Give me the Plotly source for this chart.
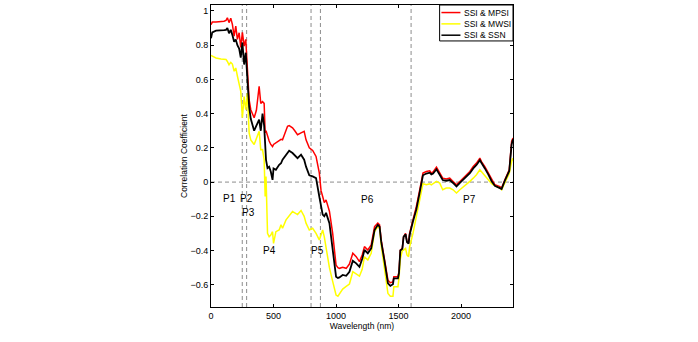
import plotly.graph_objects as go

OUTPUT_PATH = 'out.html'

# Wavelength grid (nm)
wavelength = [0, 10, 40, 80, 104, 120, 131, 144, 158, 171, 185, 198, 211, 225, 238, 251, 265, 278, 291,
              305, 318, 345, 363, 385, 398, 412, 425, 433, 440, 452, 465, 478, 492, 500, 519, 545, 560,
              572, 600, 612, 625, 652, 670, 692, 720, 745, 760, 786, 813, 840, 866, 880, 893, 906, 920,
              947, 973, 1000, 1015, 1027, 1053, 1081, 1107, 1134, 1161, 1187, 1209, 1227, 1254, 1281,
              1308, 1334, 1348, 1361, 1388, 1415, 1434, 1455, 1462, 1495, 1503, 1514, 1530, 1540, 1556,
              1567, 1580, 1588, 1615, 1642, 1669, 1695, 1722, 1749, 1762, 1776, 1803, 1829, 1853, 1881,
              1909, 1936, 1963, 1990, 2016, 2043, 2070, 2097, 2123, 2150, 2163, 2190, 2217, 2244, 2270,
              2310, 2324, 2350, 2385, 2404, 2415]

# SSI & MPSI
r_mpsi = [0.92, 0.935, 0.935, 0.937, 0.94, 0.945, 0.96, 0.932, 0.958, 0.922, 0.853, 0.912, 0.834, 0.873,
          0.787, 0.875, 0.795, 0.834, 0.677, 0.48, 0.423, 0.376, 0.42, 0.56, 0.46, 0.47, 0.46, 0.288, 0.30,
          0.266, 0.24, 0.22, 0.207, 0.22, 0.23, 0.24, 0.25, 0.247, 0.30, 0.326, 0.33, 0.317, 0.30, 0.277,
          0.288, 0.297, 0.247, 0.20, 0.185, 0.15, 0.054, -0.05, -0.084, -0.12, -0.104, -0.17, -0.30,
          -0.485, -0.50, -0.504, -0.498, -0.504, -0.479, -0.416, -0.436, -0.465, -0.426, -0.377, -0.397,
          -0.367, -0.26, -0.24, -0.25, -0.338, -0.455, -0.573, -0.588, -0.583, -0.553, -0.553, -0.524,
          -0.397, -0.387, -0.319, -0.30, -0.348, -0.358, -0.30, -0.221, -0.143, -0.045, 0.053, 0.062,
          0.066, 0.053, 0.06, 0.088, 0.053, 0.023, 0.018, 0.023, 0.004, -0.016, 0.004, 0.023, 0.043,
          0.062, 0.091, 0.111, 0.14, 0.12, 0.091, 0.053, 0.013, -0.016, -0.026, -0.035, 0.013, 0.072,
          0.238, 0.258]

# SSI & MWSI
r_mwsi = [0.74, 0.735, 0.725, 0.72, 0.718, 0.717, 0.705, 0.686, 0.70, 0.69, 0.648, 0.667, 0.62, 0.58,
          0.53, 0.376, 0.50, 0.423, 0.52, 0.288, 0.247, 0.22, 0.25, 0.297, 0.189, 0.19, 0.131, -0.084,
          0.033, -0.30, -0.319, -0.31, -0.29, -0.358, -0.29, -0.28, -0.25, -0.27, -0.221, -0.21, -0.192,
          -0.172, -0.18, -0.19, -0.166, -0.20, -0.24, -0.28, -0.27, -0.30, -0.338, -0.31, -0.28, -0.32,
          -0.377, -0.50, -0.58, -0.66, -0.667, -0.651, -0.625, -0.61, -0.596, -0.524, -0.535, -0.55,
          -0.51, -0.436, -0.455, -0.416, -0.29, -0.26, -0.27, -0.37, -0.51, -0.651, -0.667, -0.667,
          -0.612, -0.612, -0.563, -0.45, -0.40, -0.397, -0.387, -0.426, -0.436, -0.38, -0.30, -0.20,
          -0.12, -0.01, -0.016, -0.01, -0.016, -0.01, 0.004, -0.006, -0.045, -0.035, -0.035, -0.045,
          -0.064, -0.045, -0.03, -0.016, 0.004, 0.023, 0.043, 0.072, 0.06, 0.035, 0.01, -0.01, -0.022,
          -0.035, -0.045, 0.0, 0.05, 0.12, 0.14]

# SSI & SSN
r_ssn = [0.84, 0.875, 0.885, 0.885, 0.888, 0.89, 0.90, 0.87, 0.89, 0.86, 0.82, 0.834, 0.80, 0.78, 0.727,
         0.816, 0.687, 0.756, 0.618, 0.44, 0.37, 0.30, 0.33, 0.365, 0.30, 0.40, 0.33, 0.17, 0.13, 0.082,
         0.09, 0.062, 0.013, 0.08, 0.072, 0.101, 0.11, 0.131, 0.16, 0.17, 0.183, 0.17, 0.155, 0.14, 0.16,
         0.131, 0.09, 0.04, 0.033, 0.023, -0.084, -0.15, -0.19, -0.2, -0.18, -0.24, -0.397, -0.553,
         -0.56, -0.557, -0.543, -0.548, -0.524, -0.46, -0.475, -0.495, -0.45, -0.397, -0.416, -0.387,
         -0.28, -0.25, -0.26, -0.348, -0.465, -0.592, -0.607, -0.597, -0.563, -0.563, -0.534, -0.40,
         -0.39, -0.32, -0.305, -0.35, -0.36, -0.31, -0.23, -0.16, -0.06, 0.04, 0.05, 0.055, 0.045, 0.05,
         0.075, 0.04, 0.012, 0.008, 0.012, -0.005, -0.025, -0.005, 0.013, 0.033, 0.052, 0.08, 0.10,
         0.128, 0.11, 0.08, 0.045, 0.005, -0.022, -0.032, -0.04, 0.008, 0.065, 0.22, 0.25]

series_names = ['SSI & MPSI', 'SSI & MWSI', 'SSI & SSN']
series_colors = ['#ff0000', '#ffff00', '#000000']

# Band boundaries (dashed verticals) and region labels
boundaries = [250, 285, 800, 875, 1600]
label_text = ['P1', 'P2', 'P3', 'P4', 'P5', 'P6', 'P7']
label_x = [144, 283, 300, 471, 853, 1249, 2070]
label_y = [-0.098, -0.098, -0.178, -0.397, -0.397, -0.104, -0.104]

FONT = 'Liberation Sans, Arial, sans-serif'
DASH = '4px,3px'

fig = go.Figure()
for name, color, ys, w in zip(series_names, series_colors, [r_mpsi, r_mwsi, r_ssn], [1.5, 1.5, 1.8]):
    fig.add_trace(go.Scatter(x=wavelength, y=ys, name=name, mode='lines',
                             line=dict(color=color, width=w), showlegend=False))

# dashed reference lines
for b in boundaries:
    fig.add_shape(type='line', xref='x', yref='paper', x0=b, x1=b, y0=0, y1=1, layer='below',
                  line=dict(color='#8c8c8c', width=1, dash=DASH))
fig.add_shape(type='line', xref='paper', yref='y', x0=0, x1=1, y0=0, y1=0, layer='below',
              line=dict(color='#8c8c8c', width=1, dash=DASH))

for t, lx, ly in zip(label_text, label_x, label_y):
    fig.add_annotation(x=lx, y=ly, text=t, showarrow=False,
                       font=dict(family=FONT, size=10, color='black'))

# legend drawn as a small boxed key (MATLAB style)
fig.add_shape(type='rect', xref='paper', yref='paper', x0=0.757, x1=1.0, y0=0.881, y1=1.0,
              line=dict(color='black', width=1), fillcolor='white', layer='above')
for i, (name, color) in enumerate(zip(series_names, series_colors)):
    yy = 0.975 - i * 0.0375
    fig.add_shape(type='line', xref='paper', yref='paper', x0=0.763, x1=0.826, y0=yy, y1=yy,
                  line=dict(color=color, width=1.5), layer='above')
    fig.add_annotation(xref='paper', yref='paper', x=0.831, y=yy, text=name, showarrow=False,
                       xanchor='left', yanchor='middle',
                       font=dict(family=FONT, size=8.5, color='black'))

axis_common = dict(showline=True, linecolor='black', linewidth=1, mirror='ticks', ticks='inside',
                   ticklen=3, tickcolor='black', showgrid=False, zeroline=False,
                   tickfont=dict(family=FONT, size=9, color='black'))

fig.update_layout(
    width=698, height=342,
    margin=dict(l=211, r=185, t=5, b=35),
    paper_bgcolor='white', plot_bgcolor='white',
    xaxis=dict(range=[0, 2415], tickvals=[0, 500, 1000, 1500, 2000],
               title=dict(text='Wavelength (nm)', font=dict(family=FONT, size=8.5, color='black'),
                          standoff=0),
               **axis_common),
    yaxis=dict(range=[-0.73, 1.035], tickvals=[-0.6, -0.4, -0.2, 0, 0.2, 0.4, 0.6, 0.8, 1],
               title=dict(text='Correlation Coefficient',
                          font=dict(family=FONT, size=8.5, color='black'), standoff=1),
               **axis_common),
    showlegend=False,
)

# page body has a default margin; drop it so the figure sits at the window origin
fig.write_html(OUTPUT_PATH, config={'displayModeBar': False},
               post_script="document.body.style.margin='0';")
